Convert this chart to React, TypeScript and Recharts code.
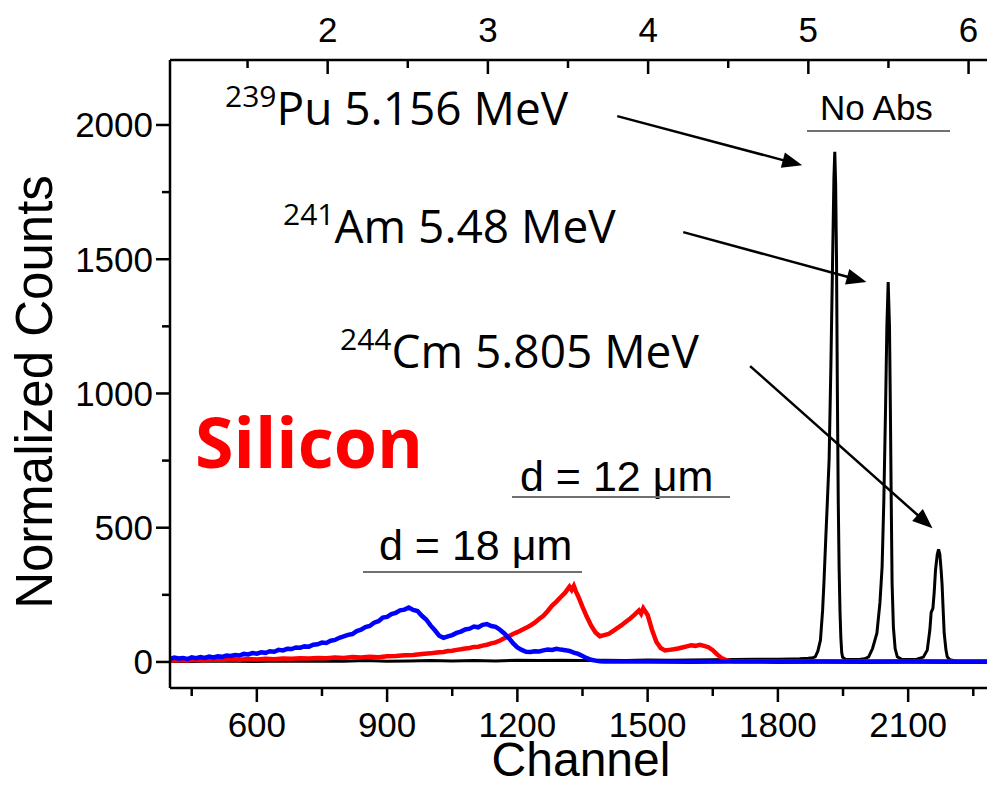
import React from 'react';
import { LineChart, Line, XAxis, YAxis, ReferenceLine } from 'recharts';

// ---- spectra (channel, normalized counts) ----
const blackChannels = [
  400, 450, 500, 550, 600, 650, 700, 750, 800, 850, 900, 950, 1000, 1050, 1100, 1150, 1200, 1250, 1300, 1350,
  1400, 1450, 1500, 1550, 1600, 1650, 1700, 1750, 1800, 1830, 1850, 1870, 1880, 1886, 1892, 1898, 1903, 1906,
  1910, 1914, 1918, 1922, 1926, 1929, 1931, 1933, 1935, 1937, 1939, 1941, 1943, 1945, 1947, 1949, 1955, 1970,
  1990, 2000, 2009, 2018, 2028, 2035, 2040, 2044, 2048, 2051, 2054, 2057, 2059, 2061, 2063, 2066, 2070, 2075,
  2085, 2100, 2120, 2135, 2144, 2150, 2153, 2157, 2160, 2163, 2167, 2170, 2173, 2176, 2178, 2181, 2183, 2187,
  2190, 2196, 2210, 2250, 2300,
];
const blackCounts = [
  3, 2, 4, 3, 2, 4, 3, 4, 3, 5, 3, 4, 5, 4, 5, 4, 6, 5, 6, 5,
  6, 5, 7, 6, 7, 8, 9, 10, 10, 11, 12, 14, 16, 19, 40, 81, 193, 293,
  450, 600, 756, 1100, 1500, 1800, 1900, 1780, 1500, 1000, 600, 350, 190, 90, 35, 18, 10, 9,
  10, 12, 19, 50, 107, 220, 354, 602, 950, 1250, 1415, 1250, 950, 602, 293, 130, 50, 19,
  10, 9, 10, 18, 44, 120, 185, 200, 260, 342, 400, 419, 400, 340, 292, 180, 107, 45,
  19, 8, 4, 3, 3,
];

const redChannels = [
  400, 420, 440, 460, 480, 500, 520, 540, 560, 580, 600, 620, 640, 660, 680, 700, 720, 740, 760, 780,
  800, 820, 840, 860, 880, 900, 920, 940, 960, 980, 1000, 1010, 1020, 1030, 1040, 1050, 1060, 1070, 1080, 1090,
  1100, 1110, 1120, 1130, 1140, 1150, 1160, 1170, 1180, 1190, 1200, 1210, 1220, 1230, 1240, 1250, 1260, 1270,
  1280, 1290, 1300, 1310, 1320, 1325, 1330, 1335, 1340, 1350, 1360, 1370, 1380, 1390, 1400, 1410, 1420, 1430,
  1440, 1450, 1460, 1470, 1480, 1485, 1490, 1500, 1510, 1520, 1530, 1540, 1550, 1560, 1570, 1580, 1590, 1600,
  1610, 1620, 1630, 1640, 1650, 1660, 1670, 1680, 1690, 1700, 1800, 1900, 2000, 2100, 2200, 2300,
];
const redCounts = [
  5, 7, 5, 8, 6, 9, 7, 10, 8, 11, 9, 12, 10, 13, 12, 14, 13, 15, 14, 17,
  15, 18, 17, 19, 18, 21, 22, 25, 26, 30, 32, 34, 36, 37, 41, 42, 45, 47, 50, 52,
  56, 57, 61, 64, 69, 73, 80, 88, 96, 104, 111, 119, 127, 136, 146, 160, 172, 190,
  210, 225, 242, 258, 280, 268, 283, 262, 245, 205, 168, 135, 110, 96, 100, 104, 115, 126,
  137, 150, 162, 176, 192, 180, 200, 175, 120, 75, 52, 43, 45, 47, 50, 54, 58, 62,
  60, 64, 60, 55, 44, 28, 15, 7, 4, 3, 2, 2, 2, 2, 2, 2,
];

const blueChannels = [
  400, 410, 420, 430, 440, 450, 460, 470, 480, 490, 500, 510, 520, 530, 540, 550, 560, 570, 580, 590,
  600, 610, 620, 630, 640, 650, 660, 670, 680, 690, 700, 710, 720, 730, 740, 750, 760, 770, 780, 790,
  800, 810, 820, 830, 840, 850, 860, 870, 880, 890, 900, 910, 920, 930, 940, 950, 960, 970, 980, 990,
  1000, 1010, 1020, 1030, 1040, 1050, 1060, 1070, 1080, 1090, 1100, 1110, 1120, 1130, 1140, 1150, 1160, 1170,
  1180, 1190, 1200, 1210, 1220, 1230, 1240, 1250, 1260, 1270, 1280, 1290, 1300, 1310, 1320, 1330, 1340, 1350,
  1360, 1370, 1380, 1390, 1400, 1500, 1600, 1700, 1800, 1900, 2000, 2100, 2200, 2300,
];
const blueCounts = [
  12, 16, 13, 15, 11, 17, 14, 18, 15, 20, 17, 21, 19, 24, 22, 26, 24, 30, 28, 33,
  31, 36, 34, 40, 38, 45, 43, 49, 48, 54, 53, 58, 57, 64, 66, 72, 71, 79, 82, 90,
  95, 101, 104, 115, 120, 130, 134, 146, 152, 165, 168, 178, 183, 192, 195, 203, 194, 190, 172, 158,
  136, 118, 98, 90, 95, 100, 108, 113, 121, 124, 132, 129, 138, 141, 134, 131, 120, 106,
  90, 70, 54, 45, 38, 37, 40, 39, 43, 46, 45, 49, 46, 44, 41, 35, 30, 22,
  14, 8, 5, 3, 2, 2, 1, 2, 1, 2, 1, 2, 1, 1,
];

// ---- axes ----
const channelDomain = [400, 2300];
const channelTicks = [450, 600, 750, 900, 1050, 1200, 1350, 1500, 1650, 1800, 1950, 2100, 2250];
const channelLabels = [600, 900, 1200, 1500, 1800, 2100];
const energyDomain = [1.016, 6.165];
const energyTicks = [1.5, 2, 2.5, 3, 3.5, 4, 4.5, 5, 5.5, 6];
const energyLabels = [2, 3, 4, 5, 6];
const countDomain = [-97, 2242];
const countTicks = [0, 250, 500, 750, 1000, 1250, 1500, 1750, 2000];
const countLabels = [0, 500, 1000, 1500, 2000];

// arrows from each isotope label to its peak, in (channel, counts)
const peakArrows = [
  { from: [1430, 2033], to: [1856, 1850] },
  { from: [1582, 1601], to: [2004, 1415] },
  { from: [1736, 1102], to: [2156, 498] },
];

const toPoints = (chs: number[], cts: number[]) => chs.map((ch, i) => ({ ch, counts: cts[i] }));
const blackData = toPoints(blackChannels, blackCounts);
const redData = toPoints(redChannels, redCounts);
const blueData = toPoints(blueChannels, blueCounts);
// empty carrier so the energy (MeV) scale on top gets drawn
const energyCarrier = energyTicks.map((e) => ({ energy: e, counts: null }));

const SANS = '"Liberation Sans", Arial, sans-serif';
const LABEL_FONT = '"Open Sans", "Liberation Sans", sans-serif';
const TICK_FONT = 35;
const MAJOR = 14;
const MINOR = 8;
const AXIS_W = 2.5;

function BottomTick(props: any) {
  const { x, y, payload } = props;
  const major = channelLabels.includes(payload.value);
  return (
    <g>
      <line x1={x} x2={x} y1={y} y2={y + (major ? MAJOR : MINOR)} stroke="#000" strokeWidth={AXIS_W} />
      {major && (
        <text x={x} y={y + 49} textAnchor="middle" fontSize={TICK_FONT} fontFamily={SANS} fill="#000">
          {payload.value}
        </text>
      )}
    </g>
  );
}

function TopTick(props: any) {
  const { x, y, payload } = props;
  const major = energyLabels.includes(payload.value);
  return (
    <g>
      <line x1={x} x2={x} y1={y} y2={y + (major ? MAJOR : MINOR)} stroke="#000" strokeWidth={AXIS_W} />
      {major && (
        <text x={x} y={y - 18} textAnchor="middle" fontSize={TICK_FONT} fontFamily={SANS} fill="#000">
          {payload.value}
        </text>
      )}
    </g>
  );
}

function LeftTick(props: any) {
  const { x, y, payload } = props;
  const major = countLabels.includes(payload.value);
  return (
    <g>
      <line x1={x - (major ? MAJOR : MINOR)} x2={x} y1={y} y2={y} stroke="#000" strokeWidth={AXIS_W} />
      {major && (
        <text x={x - 17} y={y + 12.5} textAnchor="end" fontSize={TICK_FONT} fontFamily={SANS} fill="#000">
          {payload.value}
        </text>
      )}
    </g>
  );
}

function Arrow(p: any) {
  const { x1, y1, x2, y2 } = p;
  const dx = x2 - x1;
  const dy = y2 - y1;
  const len = Math.hypot(dx, dy) || 1;
  const ux = dx / len;
  const uy = dy / len;
  const hl = 20;
  const hw = 8;
  const bx = x2 - ux * hl;
  const by = y2 - uy * hl;
  return (
    <g>
      <line x1={x1} y1={y1} x2={bx + ux * 2} y2={by + uy * 2} stroke="#000" strokeWidth={2.5} />
      <polygon points={`${x2},${y2} ${bx - uy * hw},${by + ux * hw} ${bx + uy * hw},${by - ux * hw}`} fill="#000" />
    </g>
  );
}

function Isotope({ x, y, mass, rest }: { x: number; y: number; mass: string; rest: string }) {
  return (
    <text x={x} y={y} fontFamily={LABEL_FONT} fill="#000">
      <tspan fontSize={30} dy={-18}>{mass}</tspan>
      <tspan fontSize={46} dy={18}>{rest}</tspan>
    </text>
  );
}

export default function App() {
  return (
    <div style={{ position: 'absolute', left: 0, top: 0, width: 987, height: 787, overflow: 'hidden', background: '#fff' }}>
      <LineChart
        width={1010}
        height={787}
        margin={{ top: 20, right: 15, bottom: 40, left: 70 }}
        style={{ position: 'absolute', left: 0, top: 0 }}
      >
        <XAxis
          xAxisId={0}
          dataKey="ch"
          type="number"
          domain={channelDomain}
          allowDataOverflow
          ticks={channelTicks}
          interval={0}
          height={59}
          tickSize={0}
          tickMargin={0}
          tick={BottomTick}
          axisLine={{ stroke: '#000', strokeWidth: AXIS_W }}
        />
        <XAxis
          xAxisId="energy"
          dataKey="energy"
          orientation="top"
          type="number"
          domain={energyDomain}
          allowDataOverflow
          ticks={energyTicks}
          interval={0}
          height={40}
          tickSize={0}
          tickMargin={0}
          tick={TopTick}
          axisLine={{ stroke: '#000', strokeWidth: AXIS_W }}
        />
        <YAxis
          type="number"
          domain={countDomain}
          allowDataOverflow
          ticks={countTicks}
          interval={0}
          width={100}
          tickSize={0}
          tickMargin={0}
          tick={LeftTick}
          axisLine={{ stroke: '#000', strokeWidth: AXIS_W }}
        />
        <Line
          xAxisId="energy"
          data={energyCarrier}
          dataKey="counts"
          stroke="none"
          dot={false}
          activeDot={false}
          isAnimationActive={false}
          legendType="none"
        />
        <Line data={blackData} dataKey="counts" stroke="#000" strokeWidth={3} dot={false} isAnimationActive={false} type="linear" />
        <Line data={redData} dataKey="counts" stroke="#ff0000" strokeWidth={4.5} dot={false} isAnimationActive={false} type="linear" />
        <Line data={blueData} dataKey="counts" stroke="#0000ff" strokeWidth={4.5} dot={false} isAnimationActive={false} type="linear" />
        {peakArrows.map((a, i) => (
          <ReferenceLine
            key={i}
            segment={[{ x: a.from[0], y: a.from[1] }, { x: a.to[0], y: a.to[1] }]}
            ifOverflow="visible"
            shape={Arrow}
          />
        ))}
      </LineChart>
      <svg width={987} height={787} style={{ position: 'absolute', left: 0, top: 0, pointerEvents: 'none' }}>
        <text
          transform="translate(52, 392) rotate(-90)"
          textAnchor="middle"
          fontSize={51}
          fontFamily={SANS}
          fill="#000"
        >
          Normalized Counts
        </text>
        <text x={581} y={776} textAnchor="middle" fontSize={48} fontFamily={SANS} fill="#000">
          Channel
        </text>
        <Isotope x={225} y={125} mass="239" rest="Pu 5.156 MeV" />
        <Isotope x={283} y={243} mass="241" rest="Am 5.48 MeV" />
        <Isotope x={340} y={368} mass="244" rest="Cm 5.805 MeV" />
        <text x={195} y={468} fontSize={70} fontWeight="bold" fontFamily={LABEL_FONT} fill="#ff0000">
          Silicon
        </text>
        <text x={820} y={120} fontSize={35} fontFamily={SANS} fill="#000">No Abs</text>
        <line x1={807} x2={950} y1={131} y2={131} stroke="#707070" strokeWidth={2} />
        <text x={520} y={491} fontSize={43} fontFamily={SANS} fill="#000">d = 12 μm</text>
        <line x1={512} x2={730} y1={497} y2={497} stroke="#707070" strokeWidth={2} />
        <text x={379} y={560} fontSize={43} fontFamily={SANS} fill="#000">d = 18 μm</text>
        <line x1={363} x2={582} y1={572} y2={572} stroke="#707070" strokeWidth={2} />
      </svg>
    </div>
  );
}
